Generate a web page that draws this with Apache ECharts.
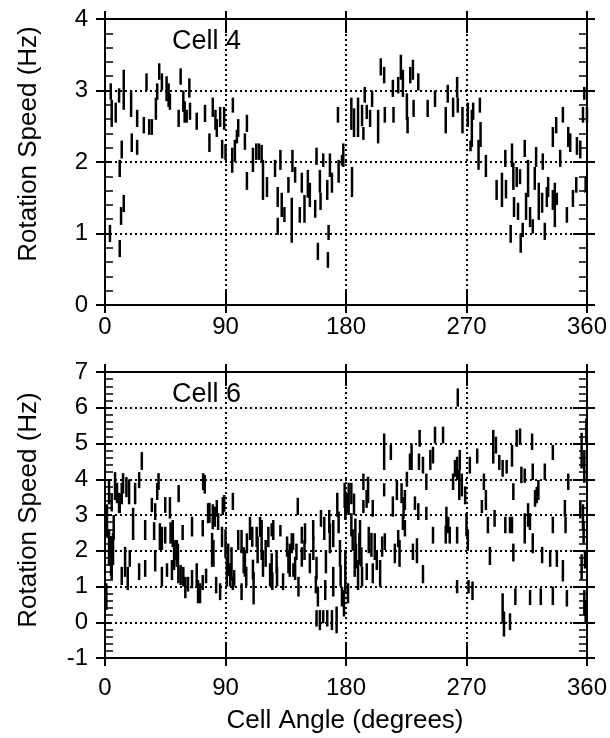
<!DOCTYPE html>
<html>
<head>
<meta charset="utf-8">
<script src="https://cdn.jsdelivr.net/npm/echarts@6/dist/echarts.min.js"></script>
<style>
  html, body { margin: 0; padding: 0; background: #fff; }
  #chart { width: 610px; height: 738px; }
</style>
</head>
<body>
<div id="chart"></div>
<script>
// Cell 4: angle (deg), bar bottom / top (Hz)
const cell4Angle = [
  3.7, 4.3, 5, 8, 10.5, 11, 11, 12, 12.5, 14,
  14, 19.5, 20, 24, 24, 29, 31, 33, 35, 38,
  39, 40.5, 42.5, 46, 47.5, 48.5, 55, 56.5, 58.5, 59.5,
  61, 63, 63.5, 68.5, 74.7, 78, 80.5, 82.5, 83.5, 86,
  87.5, 89, 90, 95.5, 95, 97, 98.5, 99.5, 104.5, 106,
  106, 110.5, 113, 115, 117, 118, 121, 127, 129, 129,
  131, 132, 134, 137, 139.5, 140, 142, 145.5, 147, 149,
  151.5, 153, 157, 158, 159, 160.5, 161, 163, 166, 166.5,
  167, 168, 169.5, 174, 174.5, 177, 178, 184.5, 184, 186,
  189, 192, 193, 194, 195.5, 198, 199.5, 204, 206, 208.5,
  209, 215, 215.5, 219, 221, 222.5, 225.5, 226, 228, 230,
  230.5, 234, 241, 246.5, 254.5, 256, 260, 263, 263.5, 267,
  271, 273, 274, 275, 279, 280, 280.5, 284.5, 292.5, 296.5,
  299, 299.5, 303, 304, 305, 305.5, 307.5, 308.5, 310, 310.5,
  312, 313.5, 314.5, 316, 317.5, 319.5, 321, 322, 324, 326.5,
  327, 328.5, 330, 331, 334.5, 334.5, 336, 337, 337.5, 340,
  342, 345, 346, 347.5, 349.5, 352, 352.5, 355, 357, 358,
  359, 360
];
const cell4Low = [
  0.88, 2.87, 2.49, 2.55, 2.83, 0.67, 1.79, 1.12, 2.05, 2.73,
  1.30, 2.63, 2.14, 2.49, 2.10, 2.40, 3.00, 2.38, 2.38, 2.59,
  2.87, 3.15, 3.00, 2.85, 2.77, 2.73, 2.49, 3.08, 2.70, 2.55,
  2.55, 2.90, 2.59, 2.45, 2.56, 2.14, 2.63, 2.45, 2.35, 2.49,
  2.05, 2.45, 2.03, 2.69, 1.85, 2.00, 2.26, 2.35, 2.17, 2.42,
  1.61, 1.86, 2.03, 2.03, 2.00, 1.47, 1.51, 1.79, 1.37, 0.98,
  1.89, 1.23, 1.16, 1.57, 0.87, 1.86, 1.71, 1.15, 1.57, 1.15,
  1.50, 1.37, 1.22, 1.96, 0.63, 1.57, 1.33, 1.93, 1.47, 0.52,
  0.91, 1.79, 1.57, 2.55, 1.71, 1.95, 1.93, 1.51, 2.45, 2.35,
  2.35, 2.50, 2.31, 2.83, 2.60, 2.49, 2.77, 2.26, 3.21, 3.10,
  2.55, 2.91, 2.55, 2.96, 3.15, 2.91, 2.59, 2.40, 3.10, 3.15,
  2.63, 3.00, 2.63, 2.77, 2.40, 2.83, 2.63, 2.90, 2.69, 2.40,
  2.49, 2.15, 2.21, 2.59, 1.89, 2.69, 2.21, 1.79, 1.47, 1.37,
  1.93, 1.49, 0.87, 1.93, 1.61, 1.23, 1.65, 1.19, 1.69, 0.73,
  0.95, 2.07, 1.19, 1.51, 1.09, 1.00, 1.61, 1.93, 1.19, 1.29,
  1.89, 0.91, 1.37, 1.51, 2.21, 1.33, 1.09, 2.40, 1.40, 1.93,
  2.55, 1.15, 2.21, 2.14, 1.37, 1.57, 2.10, 2.05, 2.55, 2.87,
  1.57, 2.55
];
const cell4High = [
  1.12, 3.10, 2.87, 2.83, 3.03, 0.91, 2.03, 1.37, 2.30, 3.29,
  1.54, 3.00, 2.40, 2.73, 2.31, 2.63, 3.24, 2.60, 2.60, 2.90,
  3.10, 3.38, 3.24, 3.20, 3.10, 2.96, 2.73, 3.31, 3.00, 2.85,
  2.73, 3.17, 2.83, 2.69, 2.80, 2.40, 2.90, 2.73, 2.60, 2.77,
  2.31, 2.77, 2.25, 2.90, 2.20, 2.31, 2.45, 2.60, 2.40, 2.66,
  1.86, 2.20, 2.26, 2.26, 2.24, 2.03, 1.79, 2.03, 1.65, 1.22,
  2.17, 1.57, 1.37, 1.79, 1.50, 2.17, 1.93, 1.37, 1.85, 1.54,
  1.89, 1.71, 1.47, 2.20, 0.87, 1.89, 1.57, 2.12, 1.75, 0.74,
  1.12, 2.12, 1.85, 2.77, 2.03, 2.10, 2.26, 1.93, 2.90, 2.75,
  2.90, 2.80, 2.49, 3.05, 2.80, 2.73, 3.00, 2.73, 3.45, 3.33,
  2.77, 3.15, 2.77, 3.19, 3.50, 3.29, 2.96, 2.63, 3.33, 3.43,
  2.87, 3.24, 2.87, 3.00, 2.77, 3.08, 2.90, 3.19, 2.90, 2.77,
  2.83, 2.30, 2.73, 2.83, 2.31, 2.90, 2.56, 2.10, 1.75, 1.85,
  2.17, 1.75, 1.12, 2.26, 1.99, 1.51, 1.93, 1.43, 1.90, 1.00,
  1.15, 2.31, 1.57, 2.03, 1.37, 1.20, 1.93, 2.21, 1.71, 1.57,
  2.12, 1.15, 1.65, 1.79, 2.49, 1.61, 1.71, 2.63, 1.57, 2.17,
  2.77, 1.37, 2.49, 2.40, 1.61, 1.79, 2.35, 2.30, 2.77, 3.05,
  1.79, 2.77
];

// Cell 6: angle (deg), bar bottom / top (Hz)
const cell6Angle = [
  1, 1.5, 3, 3, 5, 5, 6.5, 7.5, 10.5, 12.5,
  12.5, 13.5, 15, 16, 17, 18, 18.5, 21, 22.5, 25.5,
  25.5, 27.5, 30, 30, 35, 37.5, 37.5, 39, 40, 41,
  42.5, 42.5, 45, 45, 48.5, 49, 50, 52, 54.5, 55,
  56.5, 58, 60, 62, 65, 65, 68.5, 71, 73, 73,
  74.5, 75.5, 78, 80, 80.5, 83, 83.5, 84.5, 86, 88,
  90, 91, 92, 93.5, 95.5, 95.5, 99.5, 102, 104.5, 106,
  110, 110.5, 111, 114, 117, 118, 120, 124.5, 124.5, 125,
  128.5, 131, 133, 136, 138, 140.5, 142, 143, 144, 144.5,
  147, 149, 153, 155.5, 157.5, 158, 158, 160.5, 163, 164.5,
  166, 168, 169.5, 170.5, 173, 173.5, 174.5, 175.5, 177, 178.5,
  179.5, 179.5, 179, 181.5, 184, 185, 184, 186, 186.5, 189,
  190.5, 192, 193, 193, 195.5, 196.5, 197, 200, 200, 201.5,
  203, 205.5, 207, 208.5, 208.5, 209, 213.5, 215, 216.5, 218,
  220, 221.5, 222.5, 224, 225.5, 229, 230, 231.5, 233, 234.5,
  235, 237.5, 237.5, 240, 240, 243, 245, 245, 246.5, 252.5,
  254.5, 255, 257.5, 260, 263, 263, 263, 263.5, 265, 266.5,
  269, 270, 271, 271.5, 272.5, 274.5, 278, 281.5, 283, 284.5,
  286, 287.5, 290, 291, 292, 294.5, 297, 297, 298, 299,
  302.5, 304, 304, 305, 305, 306.5, 307.5, 310, 311, 313.5,
  313.5, 316, 317.5, 319, 319.5, 319.5, 322.5, 325.5, 326.5, 328.5,
  332.5, 334.5, 334.5, 334.5, 337.5, 342, 343.5, 344, 345, 346,
  355, 356, 356, 357, 358, 358,
  4.5, 6, 9, 11, 36.7, 46.3, 50.6, 51.6, 53.6, 54.8,
  58.5, 69.5, 73.3, 77, 81, 82, 87.4, 89, 94.5, 96.5,
  102, 103.6, 105.5, 108.3, 113.3, 115.8, 117, 122, 123.3, 125.7,
  128.2, 137, 139.5, 140.7, 147, 149.4, 155.6, 159, 161.3, 163.8,
  165, 167.5, 170.5, 176, 180.7, 182, 187, 187.5, 190, 191.5,
  195.4, 199, 219, 223, 224, 227.8, 234, 256.4, 261.4, 264.6,
  300, 302.5, 317.4, 321.2, 323.7, 359.5, 357.5, 359, 358.5
];
const cell6Low = [
  0.34, 2.40, 3.30, 1.60, 3.10, 1.20, 2.30, 3.42, 3.06, 3.30,
  1.04, 3.60, 1.27, 3.50, 0.90, 3.30, 1.55, 2.30, 3.30, 3.75,
  1.18, 4.26, 2.30, 1.27, 3.08, 1.42, 2.86, 3.42, 3.70, 2.02,
  2.02, 1.00, 3.06, 2.20, 2.90, 2.20, 1.18, 1.74, 1.55, 3.36,
  1.04, 2.30, 0.67, 0.86, 2.40, 0.95, 1.00, 0.53, 2.40, 0.90,
  3.60, 1.09, 2.78, 1.55, 2.60, 0.81, 2.95, 2.58, 0.62, 3.00,
  1.80, 1.00, 1.30, 1.00, 3.14, 0.90, 2.02, 0.62, 1.27, 1.93,
  2.11, 1.20, 0.50, 1.65, 2.30, 1.27, 1.55, 2.40, 1.30, 0.90,
  1.00, 2.40, 0.90, 1.83, 1.27, 2.02, 1.18, 1.74, 3.00, 0.72,
  2.20, 1.74, 1.37, 2.30, 0.81, 1.20, -0.12, -0.22, -0.03, 0.62,
  -0.12, 1.93, -0.22, 0.72, -0.31, 2.95, 2.49, 1.55, 0.44, 0.16,
  0.81, 2.86, 3.20, 0.53, 2.40, 2.00, 3.30, 3.00, 1.27, 0.90,
  2.11, 1.00, 3.05, 3.70, 1.18, 3.33, 1.93, 1.09, 2.95, 1.74,
  1.46, 0.99, 1.83, 4.26, 3.52, 2.02, 4.54, 2.95, 1.65, 3.42,
  1.55, 3.33, 2.58, 3.14, 3.79, 4.26, 1.74, 3.14, 1.65, 4.26,
  4.91, 4.16, 1.09, 3.70, 2.86, 4.26, 4.44, 2.20, 5.00, 5.00,
  2.20, 2.67, 2.20, 3.70, 3.98, 2.20, 0.81, 6.03, 4.26, 3.52,
  3.30, 2.40, 2.00, 0.81, 4.16, 0.62, 4.44, 3.05, 3.70, 3.14,
  2.49, 1.60, 4.44, 2.67, 4.72, 4.26, 4.07, -0.03, -0.40, 2.49,
  -0.22, 4.35, 2.49, 3.42, 1.70, 0.48, 4.91, 4.96, 3.89, 2.20,
  3.90, 2.67, 0.48, 4.82, 3.98, 1.93, 3.33, 0.48, 1.65, 3.98,
  1.55, 4.54, 2.49, 0.48, 1.55, 1.14, 2.95, 2.49, 0.44, 3.70,
  2.90, 4.30, 1.20, 2.60, 3.90, 0.20,
  1.30, 1.60, 3.33, 3.05, 2.30, 1.27, 2.10, 1.46, 1.55, 1.09,
  1.00, 0.53, 3.70, 2.77, 1.55, 2.67, 2.10, 3.09, 1.18, 1.00,
  1.93, 1.37, 1.00, 2.30, 2.10, 2.39, 1.74, 2.10, 1.00, 2.30,
  1.37, 1.37, 1.93, 1.27, 1.55, 2.20, 1.74, 0.44, 2.67, 2.30,
  1.37, 2.50, 2.10, 1.00, 3.05, 3.00, 1.90, 1.50, 1.60, 1.55,
  3.20, 1.83, 2.10, 2.90, 2.40, 4.26, 2.86, 2.49, 4.07, 3.42,
  4.16, 2.49, 2.58, 3.23, 3.42, 5.00, 2.20, 0.00, 1.50
];
const cell6High = [
  1.09, 3.30, 4.00, 2.60, 3.60, 2.20, 3.00, 4.20, 3.62, 3.90,
  1.55, 4.17, 2.11, 4.06, 1.55, 4.00, 2.02, 3.20, 3.90, 4.20,
  1.65, 4.76, 2.86, 1.74, 3.48, 2.02, 3.33, 3.90, 4.17, 2.77,
  2.67, 1.55, 3.50, 2.67, 3.50, 2.80, 1.74, 2.30, 2.20, 3.84,
  1.60, 2.72, 1.27, 1.27, 2.95, 1.46, 1.65, 1.09, 2.86, 1.32,
  4.12, 1.50, 3.34, 2.50, 3.30, 1.27, 3.42, 3.05, 1.09, 3.50,
  2.60, 1.80, 2.20, 1.65, 3.62, 1.27, 2.58, 1.09, 2.02, 2.49,
  2.67, 1.75, 1.40, 2.40, 2.86, 2.02, 2.30, 2.77, 1.93, 1.40,
  1.55, 2.72, 1.37, 2.40, 2.20, 2.49, 1.83, 2.20, 3.48, 1.27,
  2.67, 2.30, 1.93, 2.86, 1.30, 1.83, 0.34, 0.34, 0.34, 1.18,
  0.34, 2.77, 0.34, 1.55, 0.44, 3.62, 3.10, 2.30, 0.99, 0.90,
  2.02, 3.42, 3.90, 1.09, 3.05, 2.60, 3.90, 3.60, 2.02, 1.74,
  2.86, 1.55, 3.42, 4.16, 1.65, 4.07, 2.67, 1.65, 3.42, 2.49,
  2.02, 1.74, 2.40, 5.28, 3.89, 2.49, 4.96, 3.52, 2.20, 3.98,
  2.30, 3.89, 3.00, 3.70, 4.21, 5.00, 2.20, 3.52, 2.35, 4.72,
  5.38, 4.63, 1.60, 4.16, 3.23, 4.82, 4.91, 2.67, 5.47, 5.47,
  2.70, 3.23, 2.67, 4.16, 4.63, 2.67, 1.18, 6.54, 4.82, 4.16,
  3.80, 3.05, 2.60, 1.18, 4.63, 1.14, 4.86, 3.42, 4.16, 3.70,
  2.95, 2.11, 5.38, 3.14, 5.19, 4.68, 4.54, 0.81, 0.30, 2.95,
  0.25, 4.96, 2.95, 3.89, 2.20, 0.95, 5.38, 5.42, 4.35, 3.05,
  4.30, 3.33, 0.90, 5.28, 4.44, 2.49, 3.79, 0.95, 2.11, 4.44,
  2.02, 4.96, 2.95, 1.00, 2.02, 1.74, 3.42, 2.95, 0.90, 4.16,
  3.40, 5.30, 1.90, 3.30, 4.80, 0.90,
  2.40, 2.50, 3.90, 3.60, 2.80, 1.65, 2.86, 2.10, 2.30, 1.55,
  1.55, 1.18, 4.17, 3.33, 2.30, 3.23, 2.67, 3.56, 2.10, 1.46,
  2.58, 2.10, 1.55, 2.95, 2.67, 2.95, 2.30, 2.67, 1.65, 2.86,
  2.02, 2.02, 2.49, 1.65, 2.10, 2.77, 2.40, 1.00, 3.14, 2.95,
  2.02, 3.14, 2.86, 1.60, 3.60, 3.90, 2.90, 2.20, 2.50, 2.10,
  3.70, 2.50, 2.58, 3.50, 2.86, 4.72, 3.33, 2.95, 4.54, 4.26,
  4.54, 2.95, 3.05, 3.70, 3.98, 5.70, 2.80, 0.60, 2.00
];

const FONT = '"Liberation Sans", Arial, Helvetica, sans-serif';
const chart = echarts.init(document.getElementById('chart'));

function segments(angle, low, high) {
  return angle.map((a, i) => [a, low[i], high[i]]);
}

const gridLine = { show: true, lineStyle: { color: '#000', width: 2, type: [2, 3] } };

// four x axes per grid: bottom out / in, top out / in
function xAxes(grid, labelMargin) {
  const base = {
    type: 'value', gridIndex: grid, min: 0, max: 360, interval: 90,
    axisLine: { onZero: false, lineStyle: { color: '#000', width: 2 } },
    splitLine: { show: false },
    axisLabel: { show: false }
  };
  return [
    Object.assign({}, base, {
      position: 'bottom',
      axisTick: { length: 8, lineStyle: { color: '#000', width: 2 } },
      axisLabel: { show: true, color: '#000', fontSize: 24, fontFamily: FONT, margin: labelMargin },
      splitLine: gridLine
    }),
    Object.assign({}, base, {
      position: 'bottom',
      axisTick: { inside: true, length: 15, lineStyle: { color: '#000', width: 2 } }
    }),
    Object.assign({}, base, {
      position: 'top',
      axisTick: { length: 8, lineStyle: { color: '#000', width: 2 } }
    }),
    Object.assign({}, base, {
      position: 'top',
      axisTick: { inside: true, length: 14, lineStyle: { color: '#000', width: 2 } }
    })
  ];
}

function yAxes(grid, min, max) {
  const base = {
    type: 'value', gridIndex: grid, min: min, max: max, interval: 1,
    axisLine: { onZero: false, lineStyle: { color: '#000', width: 2 } },
    splitLine: { show: false },
    axisLabel: { show: false }
  };
  const minor = { show: true, splitNumber: 5, length: 8, lineStyle: { color: '#000', width: 1.5 } };
  return [
    Object.assign({}, base, {
      position: 'left',
      axisTick: { length: 9, lineStyle: { color: '#000', width: 2 } },
      axisLabel: { show: true, color: '#000', fontSize: 24, fontFamily: FONT, margin: 17 },
      splitLine: gridLine
    }),
    Object.assign({}, base, {
      position: 'left',
      axisTick: { inside: true, length: 6, lineStyle: { color: '#000', width: 2 } },
      minorTick: minor
    }),
    Object.assign({}, base, {
      position: 'right',
      axisTick: { length: 8, lineStyle: { color: '#000', width: 2 } }
    }),
    Object.assign({}, base, {
      position: 'right',
      axisTick: { inside: true, length: 14, lineStyle: { color: '#000', width: 2 } },
      minorTick: minor
    })
  ];
}

function barSeries(xi, yi, data) {
  return {
    type: 'custom',
    xAxisIndex: xi,
    yAxisIndex: yi,
    data: data,
    encode: { x: 0, y: [1, 2] },
    renderItem: function (params, api) {
      const p1 = api.coord([api.value(0), api.value(1)]);
      const p2 = api.coord([api.value(0), api.value(2)]);
      return {
        type: 'line',
        shape: { x1: p1[0], y1: p1[1], x2: p2[0], y2: p2[1] },
        style: { stroke: '#000', lineWidth: 2.5 }
      };
    }
  };
}

chart.setOption({
  animation: false,
  backgroundColor: '#fff',
  grid: [
    { left: 105, top: 19, width: 482, height: 286 },
    { left: 105, top: 372, width: 482, height: 286 }
  ],
  xAxis: xAxes(0, 10).concat(xAxes(1, 18)),
  yAxis: yAxes(0, 0, 4).concat(yAxes(1, -1, 7)),
  series: [
    barSeries(0, 0, segments(cell4Angle, cell4Low, cell4High)),
    barSeries(4, 4, segments(cell6Angle, cell6Low, cell6High))
  ],
  graphic: [
    { type: 'text', x: 172, y: 42, style: { text: 'Cell 4', font: '27px ' + FONT, fill: '#000', textAlign: 'left', textVerticalAlign: 'middle' } },
    { type: 'text', x: 172, y: 395, style: { text: 'Cell 6', font: '27px ' + FONT, fill: '#000', textAlign: 'left', textVerticalAlign: 'middle' } },
    { type: 'text', x: 29, y: 144, rotation: Math.PI / 2, style: { text: 'Rotation Speed (Hz)', font: '26px ' + FONT, fill: '#000', textAlign: 'center', textVerticalAlign: 'middle' } },
    { type: 'text', x: 29, y: 510, rotation: Math.PI / 2, style: { text: 'Rotation Speed (Hz)', font: '26px ' + FONT, fill: '#000', textAlign: 'center', textVerticalAlign: 'middle' } },
    { type: 'text', x: 345, y: 721, style: { text: 'Cell Angle (degrees)', font: '26px ' + FONT, fill: '#000', textAlign: 'center', textVerticalAlign: 'middle' } }
  ]
});
</script>
</body>
</html>
